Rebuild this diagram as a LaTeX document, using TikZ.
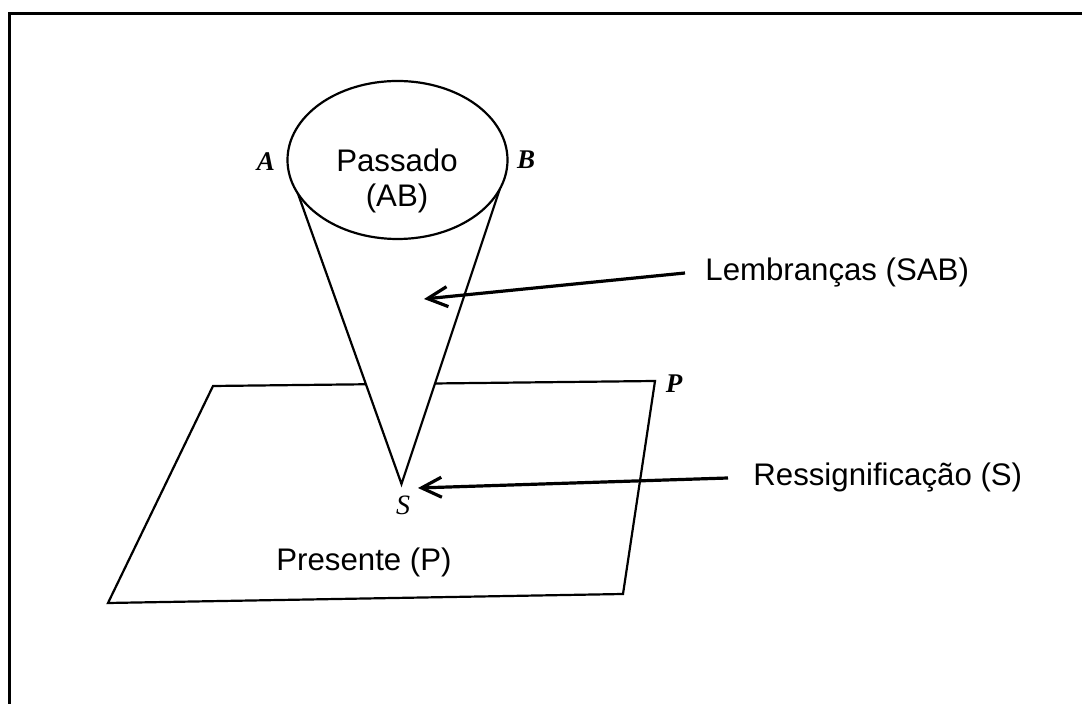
\documentclass[tikz,border=0pt]{standalone}
\usepackage{fontspec}
\setmainfont{Liberation Sans}
\newfontfamily\letterfont{Liberation Serif}
\usetikzlibrary{arrows.meta, shapes.geometric}

\begin{document}
\begin{tikzpicture}[x=0.5pt, y=-0.5pt,
    stroke/.style={line width=1.1pt, line join=miter},
    pointer/.style={line width=1.6pt, -{Straight Barb[length=10pt, width=10pt, line width=1.6pt]}},
    txt/.style={font=\fontsize{15.6}{17.5}\selectfont, inner ysep=0pt, align=center},
    letter/.style={font=\letterfont\fontsize{13.5}{15}\selectfont\bfseries\itshape, inner sep=0pt}]
    \useasboundingbox (0,0) rectangle (1082,704);

    % Frame
    \draw[line width=1.5pt] (9.5,704) |- (1082,14);

    % Plane (present)
    \draw[stroke] (213,386) -- (655,381) -- (623,594) -- (108,603) -- cycle;
    \node (present) at (364,562) [txt] {Presente (P)};
    \node (p) at (674,384) [letter] {P};

    % Cone of memories
    \coordinate (tip) at (401.5,484);
    \coordinate (rimA) at (297,191);
    \coordinate (rimB) at (500,188.5);
    \filldraw[stroke, fill=white] (rimA) -- (tip) -- (rimB);
    \node (past) at (397.5,160) [ellipse, draw, stroke, fill=white, minimum width=110pt, minimum height=79pt, inner sep=0pt] {};
    \node (pasttext) at (397,181) [txt] {Passado\\(AB)};
    \node (a) at (266,162) [letter] {A};
    \node (b) at (526,160) [letter] {B};
    \node (s) at (403,505) [letter, font=\letterfont\fontsize{14}{15}\selectfont\itshape] {S};

    % Labels with arrows
    \coordinate (cone) at (424,299);
    \coordinate (apex) at (418,488);
    \node (memories) at (685,273) [txt, anchor=west, inner xsep=10pt] {Lembranças (SAB)};
    \node (resignif) at (728,478) [txt, anchor=west, inner xsep=12.5pt] {Ressignificação (S)};
    \draw[pointer] (memories.west) -- (cone);
    \draw[pointer] (resignif.west) -- (apex);
\end{tikzpicture}
\end{document}
